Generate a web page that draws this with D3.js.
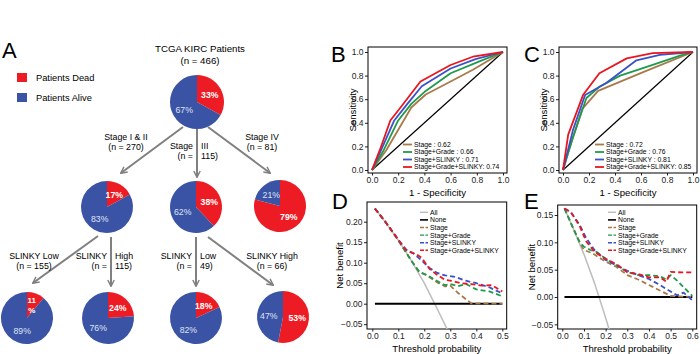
<!doctype html>
<html>
<head>
<meta charset="utf-8">
<script src="https://cdn.jsdelivr.net/npm/d3@7"></script>
<style>
  body { margin: 0; background: #fff; }
  text { font-family: "Liberation Sans", Arial, sans-serif; }
</style>
</head>
<body>
<svg width="700" height="354"></svg>
<script>
// ---------- data ----------
// panel A: patient tree
var nodeNames = ["TCGA KIRC Patients", "Stage I & II", "Stage III", "Stage IV",
                 "SLINKY Low", "SLINKY High", "SLINKY Low", "SLINKY High"];
var nodeN = [466, 270, 115, 81, 155, 115, 49, 66];
var deadPct = [33, 17, 38, 79, 11, 24, 18, 53];
var alivePct = [67, 83, 62, 21, 89, 76, 82, 47];
var legendA = ["Patients Dead", "Patients Alive"];

// panels B, C: ROC
var rocModels = ["Stage", "Stage+Grade", "Stage+SLINKY", "Stage+Grade+SLINKY"];
var aucB = [0.62, 0.66, 0.71, 0.74];
var aucC = [0.72, 0.76, 0.81, 0.85];
var rocB_stage  = [[0,0],[0.11,0.17],[0.30,0.53],[0.41,0.64],[0.60,0.75],[0.77,0.85],[1,1]];
var rocB_grade  = [[0,0],[0.09,0.17],[0.20,0.42],[0.30,0.56],[0.41,0.67],[0.60,0.82],[0.82,0.92],[1,1]];
var rocB_slinky = [[0,0],[0.07,0.17],[0.17,0.42],[0.27,0.56],[0.38,0.71],[0.60,0.86],[0.79,0.94],[1,1]];
var rocB_full   = [[0,0],[0.06,0.17],[0.14,0.42],[0.225,0.54],[0.37,0.75],[0.60,0.89],[0.77,0.96],[1,1]];
var rocC_stage  = [[0,0],[0.04,0.15],[0.15,0.52],[0.27,0.67],[0.64,0.84],[1,1]];
var rocC_grade  = [[0,0],[0.077,0.28],[0.18,0.61],[0.28,0.705],[0.44,0.80],[0.69,0.89],[0.90,0.97],[1,1]];
var rocC_slinky = [[0,0],[0.077,0.34],[0.17,0.635],[0.33,0.735],[0.565,0.93],[0.745,0.975],[1,1]];
var rocC_full   = [[0,0],[0.04,0.30],[0.154,0.635],[0.28,0.82],[0.49,0.946],[0.69,0.99],[1,1]];
var rocTicks = [0, 0.2, 0.4, 0.6, 0.8, 1.0];

// panels D, E: decision curves
var dcaNames = ["All", "None", "Stage", "Stage+Grade", "Stage+SLINKY", "Stage+Grade+SLINKY"];
var dcaD_all    = [[0.01,0.232],[0.05,0.199],[0.10,0.155],[0.15,0.105],[0.20,0.050],[0.25,-0.013],[0.29,-0.065]];
var dcaD_none   = [[0.01,0],[0.5,0]];
var dcaD_stage  = [[0.01,0.232],[0.05,0.2],[0.10,0.155],[0.15,0.105],[0.18,0.078],[0.21,0.069],[0.25,0.052],[0.28,0.042],[0.30,0.044],[0.33,0.026],[0.38,0.001],[0.5,0]];
var dcaD_grade  = [[0.01,0.232],[0.05,0.2],[0.10,0.155],[0.15,0.105],[0.18,0.078],[0.21,0.070],[0.25,0.055],[0.28,0.045],[0.30,0.048],[0.33,0.043],[0.36,0.048],[0.40,0.035],[0.45,0.030],[0.5,0.018]];
var dcaD_slinky = [[0.01,0.232],[0.05,0.2],[0.10,0.156],[0.13,0.132],[0.16,0.122],[0.19,0.105],[0.22,0.087],[0.25,0.075],[0.28,0.069],[0.32,0.065],[0.36,0.056],[0.40,0.050],[0.45,0.040],[0.5,0.025]];
var dcaD_full   = [[0.01,0.232],[0.05,0.2],[0.10,0.156],[0.13,0.130],[0.15,0.125],[0.17,0.120],[0.19,0.112],[0.22,0.085],[0.25,0.070],[0.28,0.058],[0.31,0.055],[0.34,0.050],[0.38,0.048],[0.42,0.044],[0.46,0.045],[0.5,0.030]];
var dcaE_all    = [[0.01,0.162],[0.05,0.126],[0.10,0.078],[0.15,0.024],[0.20,-0.038],[0.218,-0.062]];
var dcaE_none   = [[0.01,0],[0.6,0]];
var dcaE_stage  = [[0.01,0.162],[0.05,0.126],[0.08,0.100],[0.10,0.086],[0.14,0.080],[0.17,0.072],[0.20,0.065],[0.25,0.055],[0.30,0.040],[0.35,0.032],[0.40,0.022],[0.45,0.012],[0.50,0.002],[0.6,0]];
var dcaE_grade  = [[0.01,0.162],[0.05,0.126],[0.08,0.100],[0.10,0.092],[0.13,0.086],[0.16,0.082],[0.20,0.070],[0.25,0.058],[0.30,0.046],[0.35,0.040],[0.40,0.040],[0.45,0.038],[0.48,0.032],[0.50,0.040],[0.53,0.030],[0.56,0.018],[0.6,0.002]];
var dcaE_slinky = [[0.01,0.162],[0.04,0.155],[0.08,0.132],[0.11,0.108],[0.15,0.085],[0.20,0.068],[0.25,0.058],[0.30,0.048],[0.35,0.040],[0.40,0.033],[0.45,0.022],[0.50,0.010],[0.53,0.003],[0.56,0.008],[0.6,-0.006]];
var dcaE_full   = [[0.01,0.162],[0.04,0.155],[0.08,0.130],[0.11,0.102],[0.15,0.082],[0.20,0.070],[0.25,0.060],[0.30,0.045],[0.35,0.042],[0.40,0.036],[0.45,0.036],[0.48,0.028],[0.50,0.046],[0.55,0.045],[0.6,0.045]];

// ---------- styles ----------
var RED = "#ed1c24", BLUE = "#3a53a4", ARROW = "#808080";
var modelColors = ["#a87a4a", "#1f9a4c", "#3a52c6", "#e8171f"];
var dcaColors = ["#bdbdbd", "#000000"].concat(modelColors);

var svg = d3.select("svg");
var defs = svg.append("defs");

// panel letters
[["A", 2, 58], ["B", 331, 62], ["C", 524, 62], ["D", 332, 209], ["E", 524, 209]].forEach(function(l) {
  svg.append("text").attr("x", l[1]).attr("y", l[2]).attr("font-size", 22).text(l[0]);
});

// ---------- panel A ----------
var pieCenters = [[197,102],[107,207],[196,207],[280,206],[27,318],[108,318],[196,318],[283,317]];
var pieR = [27, 26, 26, 26, 26, 26, 26, 26];

svg.append("text").attr("x", 200).attr("y", 51.5).attr("text-anchor", "middle")
  .attr("font-size", 9.7).text(nodeNames[0]);
svg.append("text").attr("x", 200).attr("y", 64).attr("text-anchor", "middle")
  .attr("font-size", 9.7).text("(n = " + nodeN[0] + ")");

legendA.forEach(function(t, i) {
  svg.append("rect").attr("x", 17).attr("y", 73 + i * 20).attr("width", 10).attr("height", 9)
    .attr("fill", i === 0 ? RED : BLUE);
  svg.append("text").attr("x", 36).attr("y", 81 + i * 20).attr("font-size", 9.3).text(t);
});

defs.append("marker").attr("id", "arr").attr("viewBox", "0 0 10 10")
  .attr("refX", 8.5).attr("refY", 5).attr("markerWidth", 8).attr("markerHeight", 8)
  .attr("markerUnits", "userSpaceOnUse").attr("orient", "auto")
  .append("path").attr("d", "M1,1 L9,5 L1,9").attr("fill", "none")
  .attr("stroke", ARROW).attr("stroke-width", 1.8);

// edges: [from, to, x1, y1, x2, y2, label x, label baseline, split-around-arrow]
var edges = [
  [0, 1, 183, 127, 121, 173, 126, 140, false],
  [0, 2, 197, 127, 197, 177, 197, 149, true],
  [0, 3, 208, 127, 270, 173, 262, 140, false],
  [1, 4,  98, 236,  33, 283,  34, 259, false],
  [1, 5, 111, 237, 111, 286, 111, 259, true],
  [2, 6, 196, 237, 196, 286, 196, 259, true],
  [2, 7, 208, 237, 273, 285, 272, 259, false]
];

edges.forEach(function(e) {
  svg.append("line").attr("x1", e[2]).attr("y1", e[3]).attr("x2", e[4]).attr("y2", e[5])
    .attr("stroke", ARROW).attr("stroke-width", 2).attr("marker-end", "url(#arr)");
  var l1 = nodeNames[e[1]], l2 = "(n = " + nodeN[e[1]] + ")";
  if (e[8]) {
    [l1, l2].forEach(function(s, k) {
      var cut = s.lastIndexOf(" ");
      svg.append("text").attr("x", e[6] - 4).attr("y", e[7] + k * 10).attr("text-anchor", "end")
        .attr("font-size", 8.8).text(s.slice(0, cut));
      svg.append("text").attr("x", e[6] + 4).attr("y", e[7] + k * 10)
        .attr("font-size", 8.8).text(s.slice(cut + 1));
    });
  } else {
    svg.append("text").attr("x", e[6]).attr("y", e[7]).attr("text-anchor", "middle")
      .attr("font-size", 8.8).text(l1);
    svg.append("text").attr("x", e[6]).attr("y", e[7] + 10).attr("text-anchor", "middle")
      .attr("font-size", 8.8).text(l2);
  }
});

var pie = d3.pie().sort(null).value(function(d) { return d; });

nodeNames.forEach(function(name, i) {
  var g = svg.append("g").attr("transform", "translate(" + pieCenters[i][0] + "," + pieCenters[i][1] + ")");
  var arc = d3.arc().innerRadius(0).outerRadius(pieR[i]);
  var labelArc = d3.arc().innerRadius(pieR[i] * 0.55).outerRadius(pieR[i] * 0.55);
  var slices = pie([deadPct[i], alivePct[i]]);
  g.selectAll("path").data(slices).enter().append("path")
    .attr("d", arc).attr("fill", function(d, k) { return k === 0 ? RED : BLUE; });
  slices.forEach(function(d, k) {
    var c = labelArc.centroid(d);
    var style = function(t) {
      return t.attr("text-anchor", "middle").attr("font-size", k === 0 && d.data < 15 ? 8 : 8.7)
        .attr("font-weight", k === 0 ? "bold" : "normal")
        .attr("fill", k === 0 ? "#ffffff" : "#dfe3f7");
    };
    if (k === 0 && d.data < 15) {
      // narrow slice: number and % on two lines
      style(g.append("text")).attr("x", c[0]).attr("y", c[1] - 1.5).text(d.data);
      style(g.append("text")).attr("x", c[0]).attr("y", c[1] + 8).text("%");
    } else {
      style(g.append("text")).attr("x", c[0]).attr("y", c[1]).attr("dy", "0.35em").text(d.data + "%");
    }
  });
});

// ---------- plot helper ----------
function frame(box, xDom, xRange, yDom, yRange, xTicks, yTicks, xFmt, yFmt, xTitle, yTitle, yTitleX, titleY, id) {
  var x = d3.scaleLinear().domain(xDom).range(xRange);
  var y = d3.scaleLinear().domain(yDom).range(yRange);
  defs.append("clipPath").attr("id", id).append("rect")
    .attr("x", box[0]).attr("y", box[1]).attr("width", box[2] - box[0]).attr("height", box[3] - box[1]);

  var ax = svg.append("g").attr("transform", "translate(0," + box[3] + ")")
    .call(d3.axisBottom(x).tickValues(xTicks).tickSize(2.5).tickPadding(1).tickFormat(d3.format(xFmt)));
  var ay = svg.append("g").attr("transform", "translate(" + box[0] + ",0)")
    .call(d3.axisLeft(y).tickValues(yTicks).tickSize(3).tickPadding(1.5).tickFormat(d3.format(yFmt)));
  [ax, ay].forEach(function(a) {
    a.select(".domain").remove();
    a.attr("font-size", 8.5).attr("font-family", "'Liberation Sans', Arial, sans-serif").attr("color", "#222");
  });

  svg.append("rect").attr("x", box[0]).attr("y", box[1])
    .attr("width", box[2] - box[0]).attr("height", box[3] - box[1])
    .attr("fill", "none").attr("stroke", "#000").attr("stroke-width", 1);

  svg.append("text").attr("x", (box[0] + box[2]) / 2).attr("y", titleY).attr("text-anchor", "middle")
    .attr("font-size", 9.6).text(xTitle);
  svg.append("text").attr("transform", "translate(" + yTitleX + "," + ((box[1] + box[3]) / 2) + ") rotate(-90)")
    .attr("text-anchor", "middle").attr("font-size", 9.6).text(yTitle);

  var plot = svg.append("g").attr("clip-path", "url(#" + id + ")");
  return { x: x, y: y, plot: plot };
}

function drawLine(p, data, color, width, dash) {
  var line = d3.line().x(function(d) { return p.x(d[0]); }).y(function(d) { return p.y(d[1]); });
  p.plot.append("path").datum(data).attr("d", line).attr("fill", "none")
    .attr("stroke", color).attr("stroke-width", width)
    .attr("stroke-dasharray", dash || null).attr("stroke-linejoin", "round");
}

// ---------- panels B, C ----------
function rocPanel(box, xRange, series, auc, legX, id) {
  var p = frame(box, [0, 1], xRange, [0, 1], [170, 52], rocTicks, rocTicks, ".1f", ".1f",
    "1 - Specificity", "Sensitivity", box[0] - 12, 195.5, id);
  drawLine(p, [[0, 0], [1, 1]], "#000", 1.2);
  series.forEach(function(s, i) { drawLine(p, s, modelColors[i], 1.8); });
  rocModels.forEach(function(m, i) {
    var yy = 144.5 + i * 7.5;
    svg.append("line").attr("x1", legX).attr("x2", legX + 9).attr("y1", yy).attr("y2", yy)
      .attr("stroke", modelColors[i]).attr("stroke-width", 1.8);
    svg.append("text").attr("x", legX + 11).attr("y", yy + 2.4).attr("font-size", 6.8)
      .text(m + (i < 3 ? " : " : ": ") + auc[i].toFixed(2));
  });
}

rocPanel([368, 47, 507, 173], [372, 503], [rocB_stage, rocB_grade, rocB_slinky, rocB_full], aucB, 403, "clipB");
rocPanel([559, 47, 697, 173], [563, 693], [rocC_stage, rocC_grade, rocC_slinky, rocC_full], aucC, 595, "clipC");

// ---------- panels D, E ----------
function dcaPanel(box, xDom, xRange, yDom, yRange, xTicks, yTicks, series, legX, yTitleX, id) {
  var p = frame(box, xDom, xRange, yDom, yRange, xTicks, yTicks, ".1f", ".2f",
    "Threshold probability", "Net benefit", yTitleX, 352, id);
  series.forEach(function(s, i) {
    if (i === 0) drawLine(p, s, dcaColors[0], 1.5);
    else if (i === 1) drawLine(p, s, dcaColors[1], 2);
    else drawLine(p, s, dcaColors[i], 1.8, "5,3");
  });
  dcaNames.forEach(function(n, i) {
    var yy = 212.3 + i * 7.6;
    svg.append("line").attr("x1", legX).attr("x2", legX + 8).attr("y1", yy).attr("y2", yy)
      .attr("stroke", dcaColors[i]).attr("stroke-width", i === 1 ? 1.6 : 1.4)
      .attr("stroke-dasharray", i > 1 ? "4,1.5" : null);
    svg.append("text").attr("x", legX + 10).attr("y", yy + 2.4).attr("font-size", 6.8).text(n);
  });
}

dcaPanel([367, 202, 506.7, 329], [0, 0.5], [372.3, 502.3], [0, 0.2], [303.7, 221.7],
  [0, 0.1, 0.2, 0.3, 0.4, 0.5], [-0.05, 0, 0.05, 0.1, 0.15, 0.2],
  [dcaD_all, dcaD_none, dcaD_stage, dcaD_grade, dcaD_slinky, dcaD_full], 420, 343, "clipD");
dcaPanel([557.7, 205, 696.7, 329], [0, 0.6], [562.3, 692.3], [0, 0.15], [297, 215],
  [0, 0.1, 0.2, 0.3, 0.4, 0.5, 0.6], [-0.05, 0, 0.05, 0.1, 0.15],
  [dcaE_all, dcaE_none, dcaE_stage, dcaE_grade, dcaE_slinky, dcaE_full], 608, 535, "clipE");
</script>
</body>
</html>
